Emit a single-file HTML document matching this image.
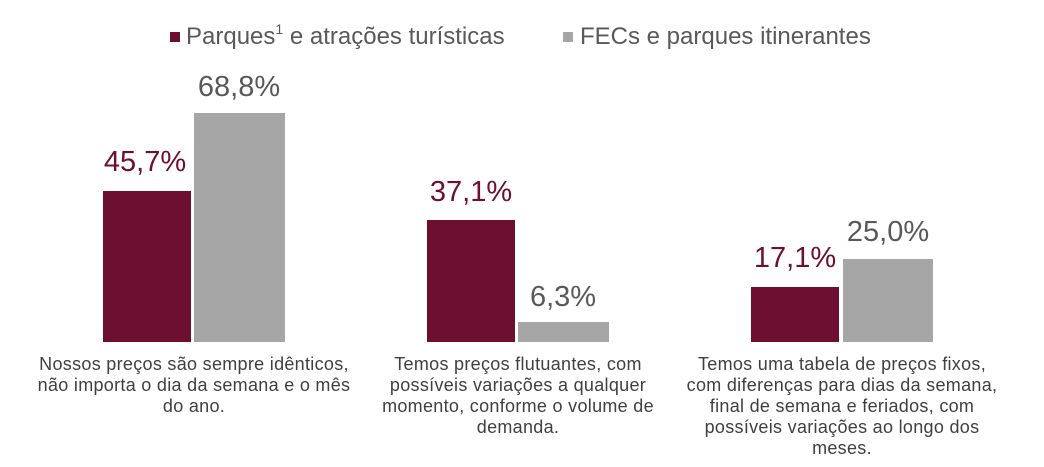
<!DOCTYPE html>
<html><head><meta charset="utf-8"><style>
body{margin:0;background:#fff;width:1044px;height:467px;overflow:hidden;position:relative;font-family:"Liberation Sans",sans-serif}
.b{position:absolute}
.m{background:#6d0f30}.g{background:#a6a6a6}
.v{position:absolute;font-size:29px;width:120px;text-align:center;line-height:1}
.vm{color:#6d0f30}.vg{color:#595959}
.c{position:absolute;font-size:18px;letter-spacing:0.3px;color:#404040;text-align:center;line-height:21px;width:340px}
.lg{position:absolute;top:22px;font-size:24px;color:#595959;line-height:30px}
.sq{position:absolute;width:10px;height:10px;top:32px}
</style></head><body>
<div class="sq m" style="left:170px"></div>
<div class="lg" style="left:186px">Parques<sup style="font-size:14px;vertical-align:10px;line-height:0">1</sup> e atrações turísticas</div>
<div class="sq g" style="left:563px"></div>
<div class="lg" style="left:580px">FECs e parques itinerantes</div>

<div class="b m" style="left:103px;top:191px;width:88px;height:151px"></div>
<div class="b g" style="left:194px;top:113px;width:91px;height:229px"></div>
<div class="b m" style="left:427px;top:220px;width:88px;height:122px"></div>
<div class="b g" style="left:518px;top:322px;width:91px;height:20px"></div>
<div class="b m" style="left:751px;top:287px;width:88px;height:55px"></div>
<div class="b g" style="left:843px;top:259px;width:90px;height:83px"></div>

<div class="v vm" style="left:85px;top:148px">45,7%</div>
<div class="v vg" style="left:179px;top:73px">68,8%</div>
<div class="v vm" style="left:411px;top:178px">37,1%</div>
<div class="v vg" style="left:503px;top:283px">6,3%</div>
<div class="v vm" style="left:735px;top:244px">17,1%</div>
<div class="v vg" style="left:828px;top:218px">25,0%</div>

<div class="c" style="left:24px;top:354px">Nossos preços são sempre idênticos,<br>não importa o dia da semana e o mês<br>do ano.</div>
<div class="c" style="left:348px;top:354px">Temos preços flutuantes, com<br>possíveis variações a qualquer<br>momento, conforme o volume de<br>demanda.</div>
<div class="c" style="left:672px;top:354px">Temos uma tabela de preços fixos,<br>com diferenças para dias da semana,<br>final de semana e feriados, com<br>possíveis variações ao longo dos<br>meses.</div>
</body></html>
